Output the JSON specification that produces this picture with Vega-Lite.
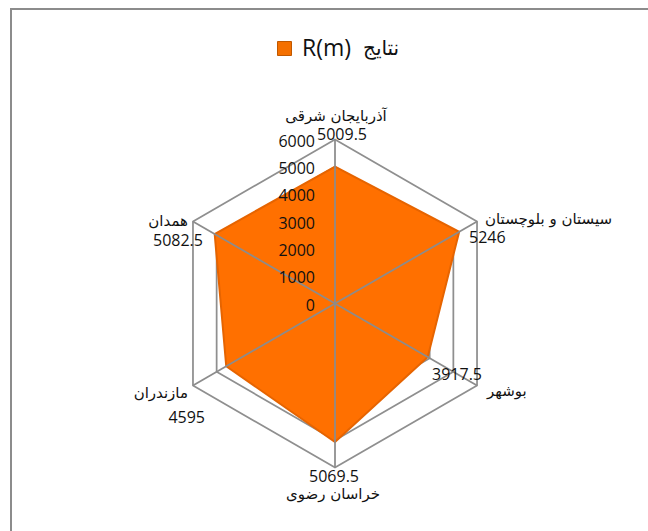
{
  "$schema": "https://vega.github.io/schema/vega-lite/v6.json",
  "autosize": "none",
  "width": 637,
  "height": 522,
  "padding": {"left": 11, "top": 9, "right": 0, "bottom": 0},
  "background": "white",
  "config": {"view": {"stroke": "#8c8c8c", "strokeWidth": 2, "strokeDash": [637, 1159, 522, 1]}, "font": "Open Sans"},
  "datasets": {
    "regions": [
      {"region": "آذربایجان شرقی", "value": 5009.5, "k": 0, "series": "R(m)"},
      {"region": "سیستان و بلوچستان", "value": 5246, "k": 1, "series": "R(m)"},
      {"region": "بوشهر", "value": 3917.5, "k": 2, "series": "R(m)"},
      {"region": "خراسان رضوی", "value": 5069.5, "k": 3, "series": "R(m)"},
      {"region": "مازندران", "value": 4595, "k": 4, "series": "R(m)"},
      {"region": "همدان", "value": 5082.5, "k": 5, "series": "R(m)"}
    ],
    "levels": [
      {"level": 0, "k": [0, 1, 2, 3, 4, 5]},
      {"level": 1000, "k": [0, 1, 2, 3, 4, 5]},
      {"level": 2000, "k": [0, 1, 2, 3, 4, 5]},
      {"level": 3000, "k": [0, 1, 2, 3, 4, 5]},
      {"level": 4000, "k": [0, 1, 2, 3, 4, 5]},
      {"level": 5000, "k": [0, 1, 2, 3, 4, 5]},
      {"level": 6000, "k": [0, 1, 2, 3, 4, 5]}
    ]
  },
  "data": {"name": "regions"},
  "encoding": {
    "x": {"field": "px", "type": "quantitative", "axis": null, "scale": {"domain": [-11853.7, 11451.2], "nice": false, "zero": false}},
    "y": {"field": "py", "type": "quantitative", "axis": null, "scale": {"domain": [-8323.1, 10774.4], "nice": false, "zero": false}}
  },
  "layer": [
    {
      "transform": [{"calculate": "0", "as": "px"}, {"calculate": "0", "as": "py"}],
      "mark": {"type": "square", "size": 40, "opacity": 1},
      "encoding": {
        "color": {
          "field": "series", "type": "nominal",
          "scale": {"range": ["#f47000"]},
          "legend": {
            "orient": "none", "legendX": 262, "legendY": 28, "direction": "horizontal",
            "title": "نتایج", "titleOrient": "right", "titleAngle": 0, "titleBaseline": "middle",
            "titleFont": "DejaVu Sans", "titleFontSize": 20, "titleFontWeight": "normal", "titleColor": "#111",
            "titlePadding": 12,
            "symbolType": "square", "symbolSize": 196, "symbolStrokeColor": "#c05800", "symbolStrokeWidth": 1,
            "labelFont": "Open Sans", "labelFontSize": 23, "labelColor": "#111", "labelOffset": 6
          }
        }
      }
    },
    {
      "data": {"name": "levels"},
      "transform": [
        {"flatten": ["k"]},
        {"calculate": "datum.level*sin(datum.k*PI/3)", "as": "px"},
        {"calculate": "datum.level*cos(datum.k*PI/3)", "as": "py"}
      ],
      "mark": {"type": "line", "interpolate": "linear-closed", "stroke": "#8f8f8f", "strokeWidth": 1.75},
      "encoding": {"detail": {"field": "level", "type": "nominal"}, "order": {"field": "k", "type": "quantitative"}}
    },
    {
      "transform": [
        {"calculate": "datum.value*sin(datum.k*PI/3)", "as": "px"},
        {"calculate": "datum.value*cos(datum.k*PI/3)", "as": "py"}
      ],
      "mark": {"type": "line", "interpolate": "linear-closed", "fill": "#ff7000", "stroke": "#e66400", "strokeWidth": 2},
      "encoding": {"order": {"field": "k", "type": "quantitative"}}
    },
    {
      "transform": [
        {"calculate": "6000*sin(datum.k*PI/3)", "as": "px"},
        {"calculate": "6000*cos(datum.k*PI/3)", "as": "py"}
      ],
      "mark": {"type": "rule", "stroke": "#8c8c8c", "strokeWidth": 1.75},
      "encoding": {"x2": {"datum": 0}, "y2": {"datum": 0}}
    },
    {
      "data": {"name": "levels"},
      "transform": [{"calculate": "0", "as": "px"}, {"calculate": "datum.level", "as": "py"}],
      "mark": {"type": "text", "align": "right", "baseline": "middle", "dx": -20, "dy": 2, "fontSize": 16, "font": "Open Sans", "color": "#111"},
      "encoding": {"text": {"field": "level", "type": "nominal"}}
    },
    {
      "transform": [{"filter": "datum.k == 0"}, {"calculate": "6000*sin(datum.k*PI/3)", "as": "px"}, {"calculate": "6000*cos(datum.k*PI/3)", "as": "py"}],
      "mark": {"type": "text", "align": "center", "baseline": "middle", "dx": 1, "dy": -24, "fontSize": 15, "font": "DejaVu Sans", "color": "#111"},
      "encoding": {"text": {"field": "region", "type": "nominal"}}
    },
    {
      "transform": [{"filter": "datum.k == 0"}, {"calculate": "6000*sin(datum.k*PI/3)", "as": "px"}, {"calculate": "6000*cos(datum.k*PI/3)", "as": "py"}],
      "mark": {"type": "text", "align": "center", "baseline": "middle", "dx": 7, "dy": -5, "fontSize": 16, "font": "Open Sans", "color": "#111"},
      "encoding": {"text": {"field": "value", "type": "nominal"}}
    },
    {
      "transform": [{"filter": "datum.k == 1"}, {"calculate": "6000*sin(datum.k*PI/3)", "as": "px"}, {"calculate": "6000*cos(datum.k*PI/3)", "as": "py"}],
      "mark": {"type": "text", "align": "left", "baseline": "middle", "dx": 8, "dy": -3, "fontSize": 15, "font": "DejaVu Sans", "color": "#111"},
      "encoding": {"text": {"field": "region", "type": "nominal"}}
    },
    {
      "transform": [{"filter": "datum.k == 1"}, {"calculate": "6000*sin(datum.k*PI/3)", "as": "px"}, {"calculate": "6000*cos(datum.k*PI/3)", "as": "py"}],
      "mark": {"type": "text", "align": "left", "baseline": "middle", "dx": -8, "dy": 16, "fontSize": 16, "font": "Open Sans", "color": "#111"},
      "encoding": {"text": {"field": "value", "type": "nominal"}}
    },
    {
      "transform": [{"filter": "datum.k == 2"}, {"calculate": "6000*sin(datum.k*PI/3)", "as": "px"}, {"calculate": "6000*cos(datum.k*PI/3)", "as": "py"}],
      "mark": {"type": "text", "align": "left", "baseline": "middle", "dx": 10, "dy": 5, "fontSize": 15, "font": "DejaVu Sans", "color": "#111"},
      "encoding": {"text": {"field": "region", "type": "nominal"}}
    },
    {
      "transform": [{"filter": "datum.k == 2"}, {"calculate": "6000*sin(datum.k*PI/3)", "as": "px"}, {"calculate": "6000*cos(datum.k*PI/3)", "as": "py"}],
      "mark": {"type": "text", "align": "right", "baseline": "middle", "dx": 5, "dy": -11, "fontSize": 16, "font": "Open Sans", "color": "#111"},
      "encoding": {"text": {"field": "value", "type": "nominal"}}
    },
    {
      "transform": [{"filter": "datum.k == 3"}, {"calculate": "6000*sin(datum.k*PI/3)", "as": "px"}, {"calculate": "6000*cos(datum.k*PI/3)", "as": "py"}],
      "mark": {"type": "text", "align": "center", "baseline": "middle", "dx": -2, "dy": 26, "fontSize": 15, "font": "DejaVu Sans", "color": "#111"},
      "encoding": {"text": {"field": "region", "type": "nominal"}}
    },
    {
      "transform": [{"filter": "datum.k == 3"}, {"calculate": "6000*sin(datum.k*PI/3)", "as": "px"}, {"calculate": "6000*cos(datum.k*PI/3)", "as": "py"}],
      "mark": {"type": "text", "align": "center", "baseline": "middle", "dx": -1, "dy": 9, "fontSize": 16, "font": "Open Sans", "color": "#111"},
      "encoding": {"text": {"field": "value", "type": "nominal"}}
    },
    {
      "transform": [{"filter": "datum.k == 4"}, {"calculate": "6000*sin(datum.k*PI/3)", "as": "px"}, {"calculate": "6000*cos(datum.k*PI/3)", "as": "py"}],
      "mark": {"type": "text", "align": "right", "baseline": "middle", "dx": -5, "dy": 7, "fontSize": 15, "font": "DejaVu Sans", "color": "#111"},
      "encoding": {"text": {"field": "region", "type": "nominal"}}
    },
    {
      "transform": [{"filter": "datum.k == 4"}, {"calculate": "6000*sin(datum.k*PI/3)", "as": "px"}, {"calculate": "6000*cos(datum.k*PI/3)", "as": "py"}],
      "mark": {"type": "text", "align": "right", "baseline": "middle", "dx": 12, "dy": 32, "fontSize": 16, "font": "Open Sans", "color": "#111"},
      "encoding": {"text": {"field": "value", "type": "nominal"}}
    },
    {
      "transform": [{"filter": "datum.k == 5"}, {"calculate": "6000*sin(datum.k*PI/3)", "as": "px"}, {"calculate": "6000*cos(datum.k*PI/3)", "as": "py"}],
      "mark": {"type": "text", "align": "right", "baseline": "middle", "dx": -5, "dy": -1, "fontSize": 15, "font": "DejaVu Sans", "color": "#111"},
      "encoding": {"text": {"field": "region", "type": "nominal"}}
    },
    {
      "transform": [{"filter": "datum.k == 5"}, {"calculate": "6000*sin(datum.k*PI/3)", "as": "px"}, {"calculate": "6000*cos(datum.k*PI/3)", "as": "py"}],
      "mark": {"type": "text", "align": "right", "baseline": "middle", "dx": 10, "dy": 19, "fontSize": 16, "font": "Open Sans", "color": "#111"},
      "encoding": {"text": {"field": "value", "type": "nominal"}}
    }
  ]
}
